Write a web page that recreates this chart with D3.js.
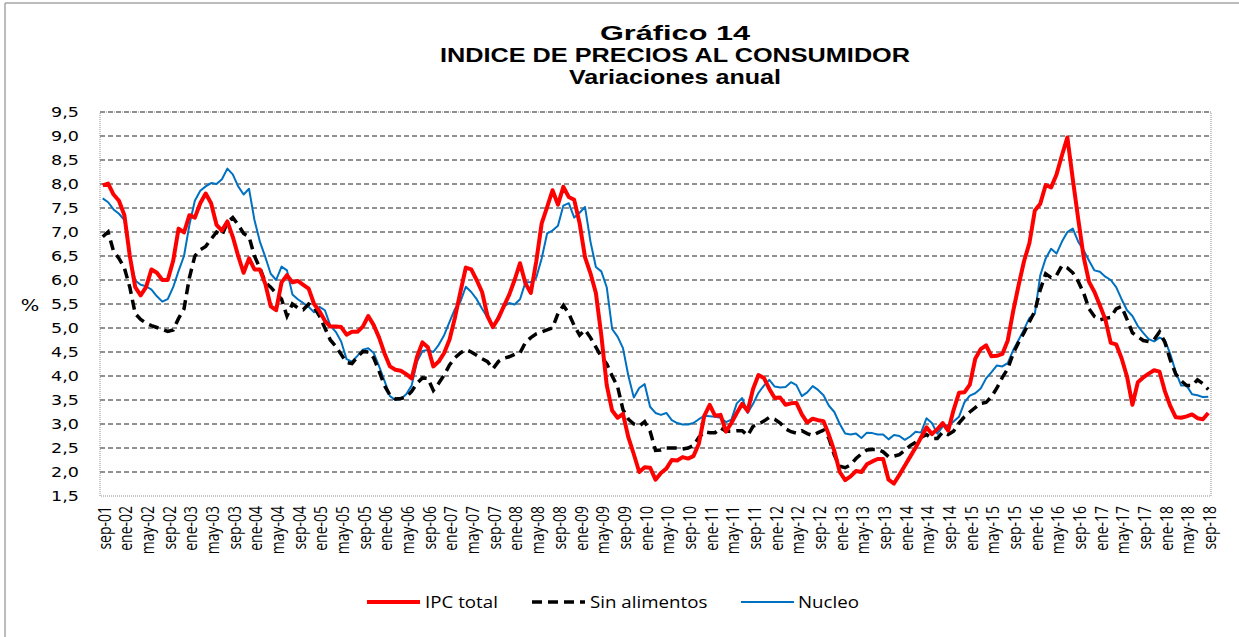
<!DOCTYPE html>
<html>
<head>
<meta charset="utf-8">
<script src="https://cdn.jsdelivr.net/npm/d3@7"></script>
<style>
  body { margin: 0; background: #fff; }
</style>
</head>
<body>
<div id="chart"></div>
<script>
const monthNames = ['ene', 'feb', 'mar', 'abr', 'may', 'jun', 'jul', 'ago', 'sep', 'oct', 'nov', 'dic'];

// monthly categories, sep-01 .. sep-18
const categories = [];
for (let y = 2001; y <= 2018; y++) {
  for (let m = 0; m < 12; m++) {
    if (y === 2001 && m < 8) continue;
    if (y === 2018 && m > 8) continue;
    categories.push(monthNames[m] + '-' + String(y).slice(2));
  }
}

const yTicks = [1.5, 2, 2.5, 3, 3.5, 4, 4.5, 5, 5.5, 6, 6.5, 7, 7.5, 8, 8.5, 9, 9.5];

const ipcTotal = [
  7.97, 8.01, 7.78, 7.65,
  7.35, 6.5, 5.85, 5.68, 5.85, 6.22, 6.15, 6.0, 6.0, 6.4, 7.07, 6.99,
  7.35, 7.3, 7.6, 7.8, 7.6, 7.15, 7.03, 7.22, 6.9, 6.5, 6.15, 6.45,
  6.22, 6.22, 5.92, 5.45, 5.37, 5.95, 6.1, 5.95, 5.98, 5.9, 5.82, 5.5,
  5.35, 5.15, 5.03, 5.03, 5.02, 4.86, 4.92, 4.92, 5.03, 5.25, 5.06, 4.8,
  4.47, 4.2, 4.13, 4.11, 4.04, 3.95, 4.4, 4.7, 4.6, 4.2, 4.3, 4.48,
  4.76, 5.22, 5.75, 6.26, 6.22, 6.0, 5.75, 5.25, 5.02, 5.2, 5.45, 5.69,
  6.0, 6.35, 5.93, 5.73, 6.39, 7.18, 7.52, 7.87, 7.57, 7.94, 7.73, 7.67,
  7.18, 6.47, 6.14, 5.73, 4.85, 3.81, 3.28, 3.13, 3.21, 2.72, 2.37, 2.0,
  2.10, 2.09, 1.84, 1.98, 2.07, 2.25, 2.24, 2.31, 2.28, 2.33, 2.59, 3.17,
  3.40, 3.17, 3.19, 2.84, 3.02, 3.23, 3.42, 3.27, 3.73, 4.02, 3.96, 3.73,
  3.54, 3.55, 3.40, 3.43, 3.44, 3.20, 3.03, 3.11, 3.08, 3.06, 2.77, 2.44,
  2.00, 1.83, 1.91, 2.02, 2.00, 2.16, 2.22, 2.27, 2.27, 1.84, 1.76, 1.94,
  2.13, 2.32, 2.51, 2.72, 2.93, 2.79, 2.89, 3.02, 2.86, 3.29, 3.65, 3.66,
  3.82, 4.36, 4.56, 4.64, 4.41, 4.42, 4.46, 4.74, 5.35, 5.89, 6.39, 6.77,
  7.45, 7.59, 7.98, 7.93, 8.20, 8.60, 8.97, 8.10, 7.27, 6.48, 5.96, 5.75,
  5.47, 5.18, 4.69, 4.66, 4.37, 3.99, 3.40, 3.87, 3.97, 4.05, 4.12, 4.09,
  3.68, 3.37, 3.14, 3.13, 3.16, 3.20, 3.12, 3.10, 3.23
];

const sinAlimentos = [
  6.9, 7.0, 6.6, 6.45,
  6.25, 5.85, 5.3, 5.18, 5.1, 5.05, 5.01, 4.97, 4.93, 4.96, 5.2, 5.4,
  6.05, 6.5, 6.63, 6.7, 6.85, 7.0, 6.93, 7.2, 7.3, 7.15, 6.97, 6.9,
  6.5, 6.25, 5.95, 5.85, 5.72, 5.6, 5.25, 5.5, 5.42, 5.38, 5.5, 5.43,
  5.25, 5.0, 4.75, 4.62, 4.45, 4.28, 4.26, 4.4, 4.51, 4.5, 4.38, 4.1,
  3.8, 3.6, 3.52, 3.53, 3.56, 3.68, 3.85, 3.96, 3.95, 3.7, 3.85, 4.02,
  4.23, 4.38, 4.48, 4.55, 4.5, 4.43, 4.36, 4.3, 4.15, 4.3, 4.37, 4.4,
  4.45, 4.48, 4.7, 4.8, 4.88, 4.92, 4.96, 5.0, 5.3, 5.47, 5.3, 5.05,
  4.85, 4.96, 4.8, 4.6, 4.4, 4.25, 4.0, 3.78, 3.3, 3.1, 3.0, 2.96,
  3.05, 2.85, 2.45, 2.46, 2.5, 2.5, 2.5, 2.48, 2.5, 2.55, 2.72, 2.84,
  2.82, 2.82, 2.92, 2.85, 2.85, 2.86, 2.86, 2.76, 2.95, 3.0, 3.06, 3.14,
  3.1, 3.02, 2.9, 2.84, 2.81, 2.86, 2.8, 2.76, 2.82, 2.87, 2.7, 2.35,
  2.12, 2.09, 2.15, 2.28, 2.38, 2.46, 2.47, 2.47, 2.42, 2.32, 2.33, 2.36,
  2.45, 2.55, 2.62, 2.72, 2.78, 2.7, 2.7, 2.83, 2.78, 2.85, 3.02, 3.15,
  3.25, 3.34, 3.43, 3.45, 3.57, 3.75, 3.97, 4.15, 4.47, 4.7, 4.9, 5.13,
  5.35, 5.8, 6.13, 6.05, 6.1, 6.3, 6.25, 6.15, 5.97, 5.73, 5.4, 5.24,
  5.17, 5.2, 5.22, 5.4, 5.45, 5.18, 4.9, 4.82, 4.74, 4.72, 4.76, 4.92,
  4.7, 4.33, 4.04, 3.9, 3.8, 3.8, 3.92, 3.84, 3.72
];

const nucleo = [
  7.7, 7.62, 7.47, 7.38,
  7.25, 6.5, 5.99, 5.9, 5.87, 5.8, 5.66, 5.55, 5.6, 5.85, 6.19, 6.5,
  7.15, 7.65, 7.86, 7.95, 8.02, 8.0, 8.1, 8.32, 8.2, 7.95, 7.78, 7.9,
  7.25, 6.8, 6.48, 6.13, 6.0, 6.28, 6.2, 5.7, 5.6, 5.52, 5.44, 5.33,
  5.44, 5.37, 5.05, 4.92, 4.72, 4.35, 4.3, 4.42, 4.55, 4.58, 4.48, 4.2,
  3.9, 3.58, 3.5, 3.52, 3.62, 3.8, 4.3, 4.52, 4.54, 4.5, 4.65, 4.85,
  5.13, 5.4, 5.55, 5.86, 5.75, 5.6, 5.4, 5.22, 5.0, 5.25, 5.45, 5.52,
  5.49, 5.6, 5.95, 5.96, 6.05, 6.45, 6.97, 7.03, 7.13, 7.55, 7.6, 7.3,
  7.4, 7.52, 6.8, 6.27, 6.18, 5.85, 4.98, 4.82, 4.58, 4.0, 3.55, 3.75,
  3.83, 3.36, 3.23, 3.19, 3.23, 3.08, 3.02, 2.99, 2.99, 3.02, 3.1, 3.17,
  3.16, 3.15, 3.13, 3.04, 3.09, 3.43, 3.54, 3.23, 3.42, 3.65, 3.8, 3.92,
  3.78, 3.76, 3.77, 3.87, 3.81, 3.58, 3.66, 3.79, 3.71, 3.6, 3.38, 3.25,
  3.0, 2.8, 2.78, 2.8, 2.71, 2.82, 2.81, 2.78, 2.78, 2.68, 2.77, 2.75,
  2.67, 2.74, 2.84, 2.82, 3.12, 3.02, 2.8, 2.95, 2.98, 3.05, 3.15, 3.45,
  3.59, 3.64, 3.74, 3.95, 4.08, 4.22, 4.2, 4.27, 4.54, 4.75, 4.97, 5.21,
  5.3, 6.1, 6.45, 6.65, 6.55, 6.8, 7.0, 7.07, 6.8, 6.62, 6.4, 6.2,
  6.17, 6.07, 6.0, 5.85, 5.6, 5.37, 5.25, 5.04, 4.9, 4.77, 4.72, 4.8,
  4.75, 4.45, 4.08, 3.8, 3.8, 3.62, 3.6, 3.56, 3.57
];

const seriesNames = ['IPC total', 'Sin alimentos', 'Nucleo'];
const titleLines = ['Gráfico 14', 'INDICE DE PRECIOS AL CONSUMIDOR', 'Variaciones anual'];

const width = 1239, height = 637;
const plot = { left: 100, right: 1211, top: 112, bottom: 496 };
const stretch = 1.3;   // the original picture is widened, so glyphs look wide

const svg = d3.select('#chart')
  .append('svg')
    .attr('width', width)
    .attr('height', height)
    .style('font-family', 'Liberation Sans, Arial, sans-serif');

// outer frame (only left/top edges show in the original)
svg.append('line')
    .attr('x1', 5).attr('x2', 5).attr('y1', 3).attr('y2', height)
    .attr('stroke', '#a6a6a6').attr('stroke-width', 1.5);
svg.append('line')
    .attr('x1', 5).attr('x2', width).attr('y1', 3).attr('y2', 3)
    .attr('stroke', '#a6a6a6').attr('stroke-width', 1.5);

const x = d3.scaleBand()
    .domain(categories)
    .range([plot.left, plot.right]);
const xc = c => x(c) + x.bandwidth() / 2;

const y = d3.scaleLinear()
    .domain([1.5, 9.5])
    .range([plot.bottom, plot.top]);

// gridlines
svg.append('g')
  .selectAll('line')
  .data(yTicks.slice(1))
  .join('line')
    .attr('x1', plot.left)
    .attr('x2', plot.right)
    .attr('y1', d => y(d))
    .attr('y2', d => y(d))
    .attr('stroke', '#222')
    .attr('stroke-width', 1)
    .attr('stroke-dasharray', '5,3');

// plot border (dotted)
svg.append('rect')
    .attr('x', plot.left)
    .attr('y', plot.top)
    .attr('width', plot.right - plot.left)
    .attr('height', plot.bottom - plot.top)
    .attr('fill', 'none')
    .attr('stroke', '#8c8c8c')
    .attr('stroke-width', 1)
    .attr('stroke-dasharray', '1,1');

// y axis labels
svg.append('g')
  .selectAll('text')
  .data(yTicks)
  .join('text')
    .attr('transform', d => `translate(79,${y(d)}) scale(${stretch},1)`)
    .attr('dy', '0.36em')
    .attr('text-anchor', 'end')
    .attr('font-family', 'DejaVu Sans, Verdana, sans-serif')
    .attr('font-size', '13.5px')
    .text(d => d.toFixed(1).replace('.', ','));

svg.append('text')
    .attr('transform', `translate(30,311) scale(${stretch},1)`)
    .attr('text-anchor', 'middle')
    .attr('font-family', 'DejaVu Sans, Verdana, sans-serif')
    .attr('font-size', '15px')
    .text('%');

// x axis
const xAxis = svg.append('g')
    .attr('transform', `translate(0,${plot.bottom})`)
    .call(d3.axisBottom(x)
      .tickValues(categories.filter((d, i) => i % 4 === 0))
      .tickSize(0)
      .tickPadding(0));
xAxis.select('.domain').remove();
xAxis.selectAll('text')
    .attr('font-family', 'Open Sans, sans-serif')
    .attr('font-size', '14px')
    .attr('fill', '#000')
    .attr('text-anchor', 'end')
    .attr('dy', '0.35em')
    .attr('transform', `translate(1.5,10) scale(${stretch},1) rotate(-90)`);

// series
const lineGen = values => d3.line()
    .x((d, i) => xc(categories[i]))
    .y(d => y(d))(values);

svg.append('path')
    .attr('d', lineGen(nucleo))
    .attr('fill', 'none')
    .attr('stroke', '#0070c0')
    .attr('stroke-width', 2)
    .attr('stroke-linejoin', 'round');

svg.append('path')
    .attr('d', lineGen(sinAlimentos))
    .attr('fill', 'none')
    .attr('stroke', '#000')
    .attr('stroke-width', 3.5)
    .attr('stroke-dasharray', '10,6');

svg.append('path')
    .attr('d', lineGen(ipcTotal))
    .attr('fill', 'none')
    .attr('stroke', '#ff0000')
    .attr('stroke-width', 4)
    .attr('stroke-linejoin', 'round');

// title
const titleWidths = [150, 470, 212];
svg.append('g')
  .selectAll('text')
  .data(titleLines)
  .join('text')
    .attr('x', 675)
    .attr('y', (d, i) => 40 + i * 22)
    .attr('text-anchor', 'middle')
    .attr('font-size', '21px')
    .attr('font-weight', 'bold')
    .attr('textLength', (d, i) => titleWidths[i])
    .attr('lengthAdjust', 'spacingAndGlyphs')
    .text(d => d);

// legend
const legendItems = [
  { name: seriesNames[0], x: 367, tx: 425, color: '#ff0000', w: 4, dash: null },
  { name: seriesNames[1], x: 532, tx: 590, color: '#000', w: 3.5, dash: '10,6' },
  { name: seriesNames[2], x: 741, tx: 798, color: '#0070c0', w: 2, dash: null }
];
const lg = svg.append('g')
  .selectAll('g')
  .data(legendItems)
  .join('g');
lg.append('line')
    .attr('x1', d => d.x).attr('x2', d => d.x + 53)
    .attr('y1', 602).attr('y2', 602)
    .attr('stroke', d => d.color)
    .attr('stroke-width', d => d.w)
    .attr('stroke-dasharray', d => d.dash);
lg.append('text')
    .attr('transform', d => `translate(${d.tx},602) scale(1.17,1)`)
    .attr('dy', '0.35em')
    .attr('font-family', 'Open Sans, sans-serif')
    .attr('font-size', '16px')
    .text(d => d.name);
</script>
</body>
</html>
